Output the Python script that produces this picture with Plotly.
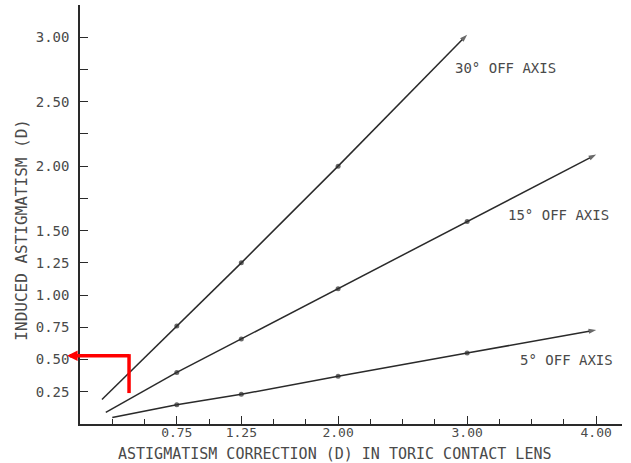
import plotly.graph_objects as go

# ---- data ----
x30 = [0.17, 0.75, 1.25, 2.00, 3.00]
y30 = [0.19, 0.76, 1.25, 2.00, 3.02]
x15 = [0.20, 0.75, 1.25, 2.00, 3.00, 4.00]
y15 = [0.09, 0.40, 0.66, 1.05, 1.57, 2.09]
x5 = [0.25, 0.75, 1.25, 2.00, 3.00, 4.00]
y5 = [0.05, 0.15, 0.23, 0.37, 0.55, 0.73]

series_labels = ["30° OFF AXIS", "15° OFF AXIS", "5° OFF AXIS"]
label_x = [3.30, 3.71, 3.77]
label_y = [2.76, 1.62, 0.50]

xtick_vals = [0.75, 1.25, 2.00, 3.00, 4.00]
xtick_text = ["0.75", "1.25", "2.00", "3.00", "4.00"]
ytick_vals = [0.25, 0.50, 0.75, 1.00, 1.25, 1.50, 1.75, 2.00, 2.25, 2.50, 2.75, 3.00]
ytick_text = ["0.25", "0.50", "0.75", "1.00", "1.25", "1.50", "", "2.00", "", "2.50", "", "3.00"]

# red guide: corner at (0.38, 0.53), down to 0.24, arrow left to -0.10
guide_x = [0.38, -0.10]
guide_y = [0.24, 0.53]

ink = "#2a2a2a"
txt = "#4a4a4a"
font_family = "DejaVu Sans Mono"

fig = go.Figure()

def add_series(xs, ys):
    n = len(xs)
    sizes = [0] + [5] * (n - 2) + [8]
    symbols = ["circle"] + ["circle"] * (n - 2) + ["arrow"]
    fig.add_trace(go.Scatter(
        x=xs, y=ys, mode="lines+markers",
        line=dict(color=ink, width=1.5),
        marker=dict(size=sizes, symbol=symbols, color=ink, angleref="previous",
                    line=dict(width=0)),
        showlegend=False, hoverinfo="skip",
    ))

add_series(x30, y30)
add_series(x15, y15)
add_series(x5, y5)

for t, lx, ly in zip(series_labels, label_x, label_y):
    fig.add_annotation(x=lx, y=ly, text=t, showarrow=False,
                       font=dict(family=font_family, size=14, color=txt))

# red guide lines
fig.add_shape(type="line", x0=guide_x[0], x1=guide_x[0], y0=guide_y[0], y1=guide_y[1] + 0.012,
              line=dict(color="#ff0000", width=3.5))
fig.add_annotation(x=guide_x[1], y=guide_y[1], ax=guide_x[0] + 0.012, ay=guide_y[1],
                   axref="x", ayref="y", xref="x", yref="y", text="",
                   showarrow=True, arrowhead=2, arrowsize=0.6, arrowwidth=3.5,
                   arrowcolor="#ff0000", standoff=0, startstandoff=0)

# axis titles
fig.add_annotation(xref="paper", yref="paper", x=-0.108, y=0.465, text="INDUCED ASTIGMATISM (D)",
                   xanchor="center", yanchor="middle",
                   textangle=-90, showarrow=False,
                   font=dict(family=font_family, size=16, color=txt))
fig.add_annotation(xref="paper", yref="paper", x=0.47, y=-0.071,
                   xanchor="center", yanchor="middle",
                   text="ASTIGMATISM CORRECTION (D) IN TORIC CONTACT LENS",
                   showarrow=False, font=dict(family=font_family, size=15, color=txt))

fig.update_layout(
    width=631, height=463,
    margin=dict(l=80, r=9, t=5, b=39),
    paper_bgcolor="white", plot_bgcolor="white",
    font=dict(family=font_family, size=14, color=txt),
    xaxis=dict(range=[0, 4.2], showgrid=False, zeroline=False, automargin=False,
               showline=True, linecolor=ink, linewidth=1.5,
               tickmode="array", tickvals=xtick_vals, ticktext=xtick_text,
               ticks="inside", ticklen=8, tickcolor=ink, tickwidth=1.2,
               ticklabelstandoff=-4,
               minor=dict(tick0=0, dtick=0.25, ticks="inside", ticklen=5,
                          tickcolor=ink, tickwidth=1.2, showgrid=False),
               tickfont=dict(size=13, color=txt)),
    yaxis=dict(range=[0, 3.25], showgrid=False, zeroline=False, automargin=False,
               showline=True, linecolor=ink, linewidth=1.5,
               tickmode="array", tickvals=ytick_vals, ticktext=ytick_text,
               ticks="inside", ticklen=8, tickcolor=ink, tickwidth=1.2,
               ticklabelstandoff=6,
               tickfont=dict(size=14, color=txt)),
)

fig.write_html("out.html", config={"displayModeBar": False},
               post_script="document.body.style.margin='0';")
